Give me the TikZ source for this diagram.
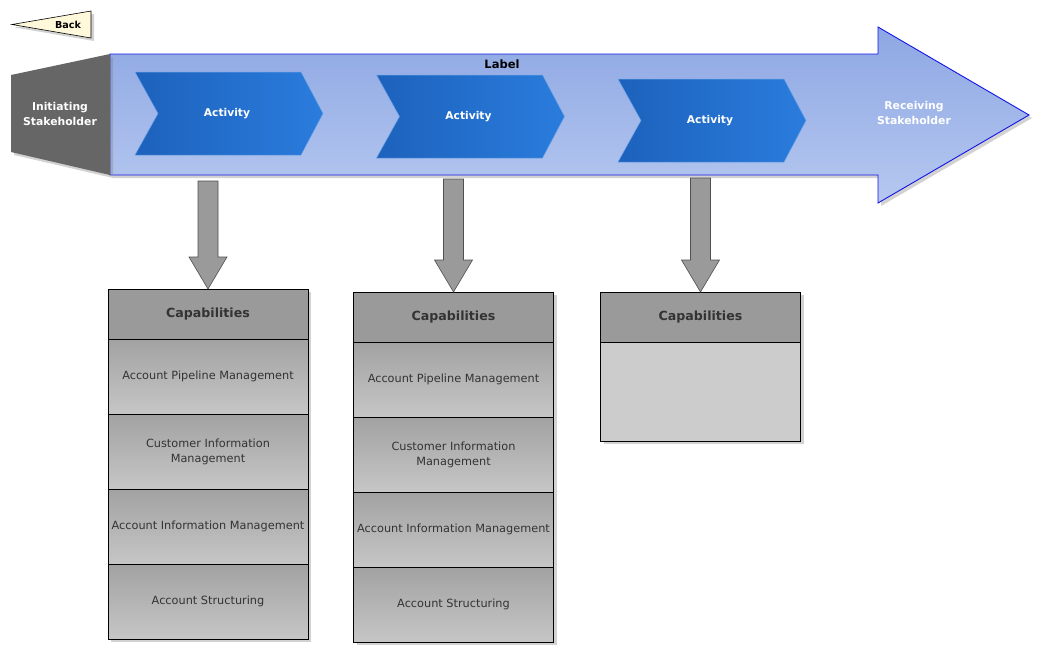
\documentclass[tikz,border=0pt]{standalone}
\usepackage{fontspec}
\setmainfont{DejaVu Sans}
\usetikzlibrary{calc,shadows}
\definecolor{arrowtop}{HTML}{8DA7E3}
\definecolor{arrowbot}{HTML}{B6C8F0}
\definecolor{arrowline}{HTML}{1414E6}
\definecolor{actL}{HTML}{1D62BC}
\definecolor{actR}{HTML}{2A7CDD}
\definecolor{stake}{HTML}{666666}
\definecolor{hdr}{HTML}{9A9A9A}
\definecolor{rowtop}{HTML}{A2A2A2}
\definecolor{rowbot}{HTML}{C6C6C6}
\definecolor{emptybody}{HTML}{CCCCCC}
\definecolor{txt}{HTML}{333333}
\definecolor{backfill}{HTML}{FFF8DA}
\definecolor{barrow}{HTML}{9A9A9A}
\definecolor{barrowline}{HTML}{505050}
\tikzset{
  softshadow/.style={drop shadow={shadow xshift=3pt,shadow yshift=-3pt,opacity=0.35,fill=gray}},
  bigarrow/.style={draw=arrowline,line width=0.9pt,top color=arrowtop,bottom color=arrowbot,softshadow},
  stakeshape/.style={fill=stake,softshadow},
  stakelabel/.style={text=white,font=\bfseries\fontsize{10.8}{15}\selectfont,align=center},
  actshape/.style={left color=actL,right color=actR,draw=actR!70!white,line width=0.5pt},
  actlabel/.style={text=white,font=\bfseries\fontsize{10.7}{12}\selectfont},
  blockarrow/.style={fill=barrow,draw=barrowline,line width=0.6pt,line join=miter},
  caphdr/.style={draw=black,line width=0.8pt,minimum width=200pt,minimum height=50pt,inner sep=0pt,outer sep=0pt,
     fill=hdr,text=txt,font=\bfseries\fontsize{12.6}{14}\selectfont,anchor=north,softshadow},
  capcell/.style={draw=black,line width=0.8pt,minimum width=200pt,minimum height=75pt,inner sep=0pt,outer sep=0pt,
     top color=rowtop,bottom color=rowbot,text=txt,font=\fontsize{11.3}{15}\selectfont,align=center,anchor=north,softshadow},
  capempty/.style={draw=black,line width=0.8pt,minimum width=200pt,minimum height=99pt,inner sep=0pt,outer sep=0pt,
     fill=emptybody,anchor=north,softshadow},
  backshape/.style={fill=backfill,draw=black,line width=0.6pt,softshadow},
}
\begin{document}
\begin{tikzpicture}[x=1pt,y=-1pt]
\useasboundingbox[fill=white] (0,0) rectangle (1045,656);

% Back button
\coordinate (bk1) at (12,24.5);
\coordinate (bk2) at (91,11);
\coordinate (bk3) at (91,38);
\path[backshape] (bk1) -- (bk2) -- (bk3) -- cycle;
\node[font=\bfseries\fontsize{9.6}{10}\selectfont] (back) at (68,24.5) {Back};

% Big arrow
\coordinate (s1) at (110,54);
\coordinate (s2) at (878,54);
\coordinate (h1) at (878,27);
\coordinate (tip) at (1029,115);
\coordinate (h2) at (878,203);
\coordinate (s3) at (878,175);
\coordinate (s4) at (110,175);
\path[bigarrow] (s1) -- (s2) -- (h1) -- (tip) -- (h2) -- (s3) -- (s4) -- cycle;

% Initiating stakeholder
\coordinate (is1) at (11,75);
\coordinate (is4) at (11,152);
\path[stakeshape] (is1) -- (s1) -- (s4) -- (is4) -- cycle;
\node[stakelabel] (init) at (60,113.5) {Initiating\\Stakeholder};

\node[stakelabel] (recv) at (914,113) {Receiving\\Stakeholder};
\node[font=\bfseries\fontsize{11.5}{12}\selectfont] (lbl) at (502,64) {Label};

% Activities
\foreach \i/\cx/\cy in {1/229/113.5, 2/470.5/116.5, 3/712/120.5}{
  \coordinate (ac\i) at (\cx,\cy);
  \path[actshape] ($(ac\i)+(-94,-41.5)$) -- ($(ac\i)+(72,-41.5)$) -- ($(ac\i)+(94,0)$)
     -- ($(ac\i)+(72,41.5)$) -- ($(ac\i)+(-94,41.5)$) -- ($(ac\i)+(-71,0)$) -- cycle;
  \node[actlabel] (a\i) at ($(ac\i)+(-2,0)$) {Activity};
}

% Capability box 1
\node[caphdr] (c1h) at (208,289) {Capabilities};
\node[capcell] (c1r1) at (c1h.south) {Account Pipeline Management};
\node[capcell] (c1r2) at (c1r1.south) {Customer Information\\Management};
\node[capcell] (c1r3) at (c1r2.south) {Account Information Management};
\node[capcell] (c1r4) at (c1r3.south) {Account Structuring};

% Capability box 2
\node[caphdr] (c2h) at (453.5,292) {Capabilities};
\node[capcell] (c2r1) at (c2h.south) {Account Pipeline Management};
\node[capcell] (c2r2) at (c2r1.south) {Customer Information\\Management};
\node[capcell] (c2r3) at (c2r2.south) {Account Information Management};
\node[capcell] (c2r4) at (c2r3.south) {Account Structuring};

% Capability box 3
\node[caphdr] (c3h) at (700.5,292) {Capabilities};
\node[capempty] (c3b) at (c3h.south) {};

% Block arrows
\coordinate (t1) at (208,181);
\coordinate (t2) at (453.5,179);
\coordinate (t3) at (700.5,178);
\foreach \i in {1,2,3}{
  \path[blockarrow] ($(t\i)+(-10,0)$) -- ($(t\i)+(10,0)$) -- ($(c\i h.north)+(10,-32)$)
    -- ($(c\i h.north)+(19,-32)$) -- (c\i h.north) -- ($(c\i h.north)+(-19,-32)$)
    -- ($(c\i h.north)+(-10,-32)$) -- cycle;
}
\end{tikzpicture}
\end{document}
